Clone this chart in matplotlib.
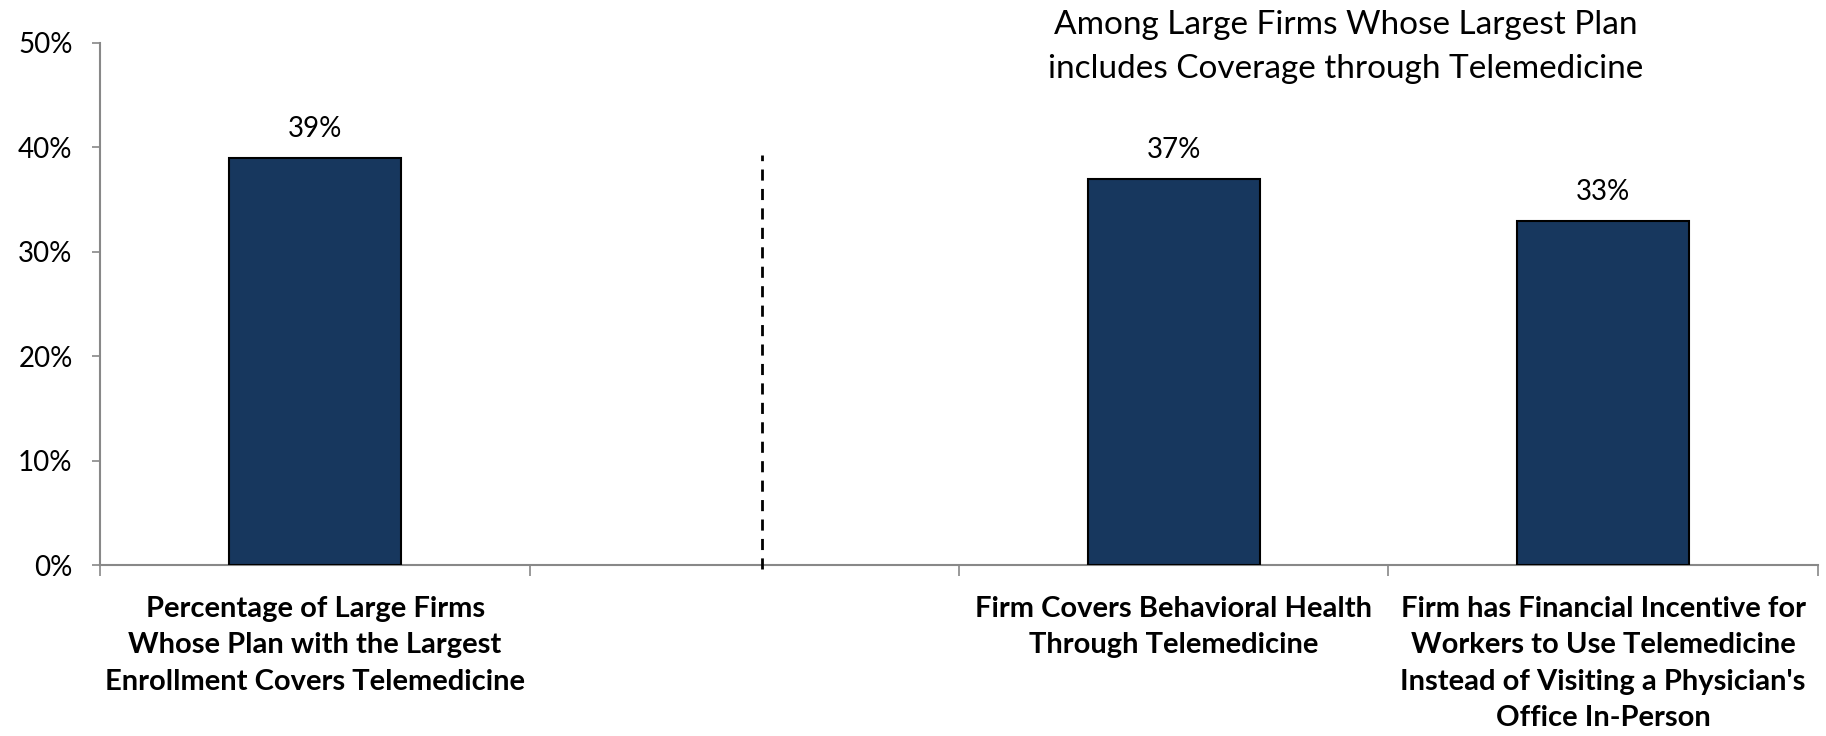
import matplotlib.pyplot as plt
from matplotlib.ticker import PercentFormatter

categories = [
    "Percentage of Large Firms\nWhose Plan with the Largest\nEnrollment Covers Telemedicine",
    "",
    "Firm Covers Behavioral Health\nThrough Telemedicine",
    "Firm has Financial Incentive for\nWorkers to Use Telemedicine\nInstead of Visiting a Physician's\nOffice In-Person",
]
values = [39, None, 37, 33]
panel_title = "Among Large Firms Whose Largest Plan\nincludes Coverage through Telemedicine"

plt.rcParams['font.family'] = ['Lato', 'DejaVu Sans']

fig = plt.figure(figsize=(18.26, 7.36), dpi=100)
ax = fig.add_axes([0.055, 0.232, 0.9405, 0.7096])

xs = [i for i, v in enumerate(values) if v is not None]
hs = [v for v in values if v is not None]
bars = ax.bar(xs, hs, width=0.4, color='#17375E', edgecolor='black', linewidth=1.5, zorder=3)
for b, v in zip(bars, hs):
    ax.text(b.get_x() + b.get_width() / 2, v + 1.5, f"{v}%",
            ha='center', va='bottom', fontsize=20)

ax.set_xlim(-0.5, 3.5)
ax.set_ylim(0, 50)
ax.yaxis.set_major_formatter(PercentFormatter(decimals=0))
ax.set_yticks(range(0, 51, 10))
ax.tick_params(axis='y', labelsize=20, length=6, color='#888888', width=1.2, pad=14)

# category ticks sit between the bars, labels centred under each slot
ax.set_xticks([-0.5, 0.5, 1.5, 2.5, 3.5])
ax.set_xticklabels([])
ax.tick_params(axis='x', length=8, color='#888888', width=1.2, direction='out')
for i, lab in enumerate(categories):
    ax.text(i, -2.9, lab, ha='center', va='top', fontsize=21,
            fontweight='bold', linespacing=1.5)

for s in ('top', 'right'):
    ax.spines[s].set_visible(False)
for s in ('left', 'bottom'):
    ax.spines[s].set_color('#888888')
    ax.spines[s].set_linewidth(1.5)

# separator between the two groups
ax.plot([1.04, 1.04], [-0.4, 39.3], color='black', linestyle=(0, (4, 3)),
        linewidth=2, clip_on=False, zorder=4)

ax.text(2.40, 49.6, panel_title, ha='center', va='center', fontsize=24,
        linespacing=1.58)

fig.savefig('out.png', dpi=100)
